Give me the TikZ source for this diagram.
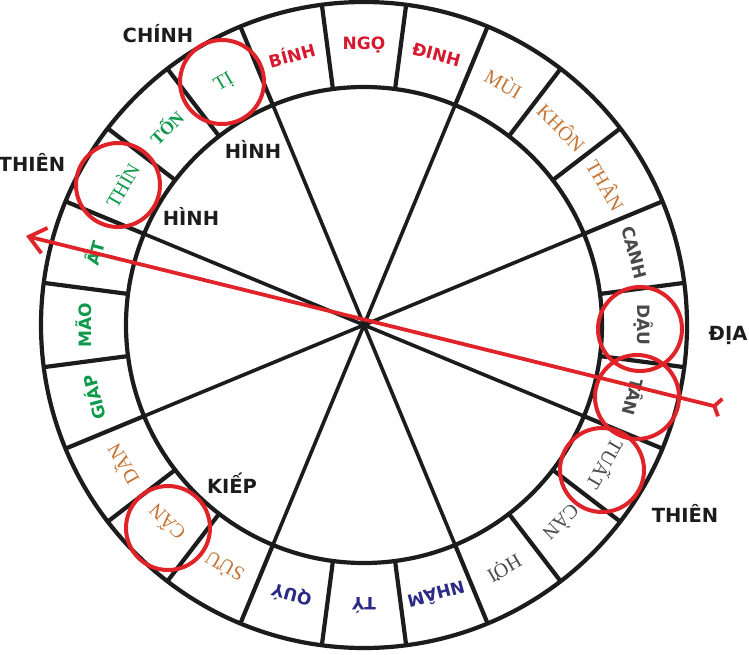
\documentclass[tikz,border=0pt]{standalone}
\usepackage{fontspec}
\setmainfont{DejaVu Sans}
\newfontfamily\lblsans{DejaVu Sans}
\newfontfamily\lblserif{Liberation Serif}
\usetikzlibrary{arrows.meta}
\definecolor{txtred}{HTML}{D7192F}
\definecolor{txtorange}{HTML}{C57434}
\definecolor{txtgreen}{HTML}{0E9A4A}
\definecolor{txtnavy}{HTML}{2B2A85}
\definecolor{txtgray}{HTML}{4A4A4A}
\definecolor{hired}{HTML}{DF2329}
\definecolor{inkblack}{HTML}{1C1C1C}
\begin{document}
\begin{tikzpicture}[x=1pt,y=1pt,
  ring/.style={line width=4.2pt, draw=inkblack},
  spoke/.style={line width=3.6pt, draw=inkblack},
  bsans/.style={font=\lblsans\bfseries\fontsize{17}{17}\selectfont, inner sep=0pt},
  lserif/.style={font=\lblserif\fontsize{20}{20}\selectfont, inner sep=0pt},
  mserif/.style={font=\lblserif\bfseries\fontsize{18}{18}\selectfont, inner sep=0pt},
  outerlbl/.style={font=\lblsans\bfseries\fontsize{19.5}{19.5}\selectfont, text=inkblack, inner sep=0pt},
  hiring/.style={draw=hired, line width=4pt, circle, minimum size=84pt, inner sep=0pt},
  redarrow/.style={draw=hired, line width=3.8pt}
]
\useasboundingbox (0,0) rectangle (749,-654);
\coordinate (O) at (364,-325);
\begin{scope}[shift={(O)}]
  \draw[ring] (0,0) circle[radius=323pt];
  \draw[ring] (0,0) circle[radius=238pt];
  \foreach \k in {0,...,23} {
    \draw[ring] ({7.5+15*\k}:238pt) -- ({7.5+15*\k}:323pt);
  }
  \foreach \k in {0,...,7} {
    \draw[spoke] (0,0) -- ({22.5+45*\k}:238pt);
  }
  % labels
  \node[bsans, text=txtred, rotate=0]    (ngo)   at (90:280pt)  {NGỌ};
  \node[bsans, text=txtred, rotate=15]   (binh)  at (105:280pt) {BÍNH};
  \node[lserif, text=txtgreen, rotate=30]  (ti)    at (120:280pt) {TỊ};
  \node[mserif, text=txtgreen, rotate=45]  (ton)   at (135:280pt) {TỐN};
  \node[lserif, text=txtgreen, rotate=60]  (thin)  at (150:280pt) {THÌN};
  \node[bsans, text=txtgreen, rotate=75]   (at)    at (165:280pt) {ẤT};
  \node[bsans, text=txtgreen, rotate=90]   (mao)   at (180:280pt) {MÃO};
  \node[bsans, text=txtgreen, rotate=105]  (giap)  at (195:280pt) {GIÁP};
  \node[lserif, text=txtorange, rotate=120] (dan)  at (210:280pt) {DẦN};
  \node[lserif, text=txtorange, rotate=135] (can)  at (225:280pt) {CẤN};
  \node[lserif, text=txtorange, rotate=150] (suu)  at (240:280pt) {SỬU};
  \node[bsans, text=txtnavy, rotate=165]   (quy)   at (255:280pt) {QUÝ};
  \node[bsans, text=txtnavy, rotate=180]   (ty)    at (270:280pt) {TÝ};
  \node[bsans, text=txtnavy, rotate=195]   (nham)  at (285:280pt) {NHÂM};
  \node[lserif, text=txtgray, rotate=210]  (hoi)   at (300:280pt) {HỢI};
  \node[lserif, text=txtgray, rotate=225]  (canw)  at (315:280pt) {CÀN};
  \node[lserif, text=txtgray, rotate=240]  (tuat)  at (330:280pt) {TUẤT};
  \node[bsans, text=txtgray, rotate=255]   (tan)   at (345:280pt) {TÂN};
  \node[bsans, text=txtgray, rotate=-90]   (dau)   at (0:280pt)   {DẬU};
  \node[bsans, text=txtgray, rotate=-75]   (canh)  at (15:280pt)  {CANH};
  \node[lserif, text=txtorange, rotate=-60] (than) at (30:280pt)  {THÂN};
  \node[lserif, text=txtorange, rotate=-45] (khon) at (45:280pt)  {KHÔN};
  \node[lserif, text=txtorange, rotate=-30] (mui)  at (60:280pt)  {MÙI};
  \node[bsans, text=txtred, rotate=-15]    (dinh)  at (75:280pt)  {ĐINH};
\end{scope}
% highlight circles
\node[hiring] (hTi)   at (222,-82)  {};
\node[hiring] (hThin) at (118,-185) {};
\node[hiring] (hDau)  at (640,-329) {};
\node[hiring] (hTan)  at (637,-397) {};
\node[hiring] (hTuat) at (602,-470) {};
\node[hiring] (hCan)  at (168,-528) {};
% red arrow
\coordinate (aR) at (722,-408);
\coordinate (aL) at (26,-236);
\draw[redarrow, {Straight Barb[reversed,length=6pt,width=18pt]}-{Straight Barb[length=16pt,width=26pt]}] (aR) -- (aL);
% outer labels
\node[outerlbl] (chinh) at (158,-34)  {CHÍNH};
\node[outerlbl] (thien1) at (32,-162) {THIÊN};
\node[outerlbl] (hinh1) at (253,-149) {HÌNH};
\node[outerlbl] (hinh2) at (191,-216) {HÌNH};
\node[outerlbl] (kiep) at (232,-483)  {KIẾP};
\node[outerlbl] (dia) at (728,-335)   {ĐỊA};
\node[outerlbl] (thien2) at (685,-513) {THIÊN};
\end{tikzpicture}
\end{document}
